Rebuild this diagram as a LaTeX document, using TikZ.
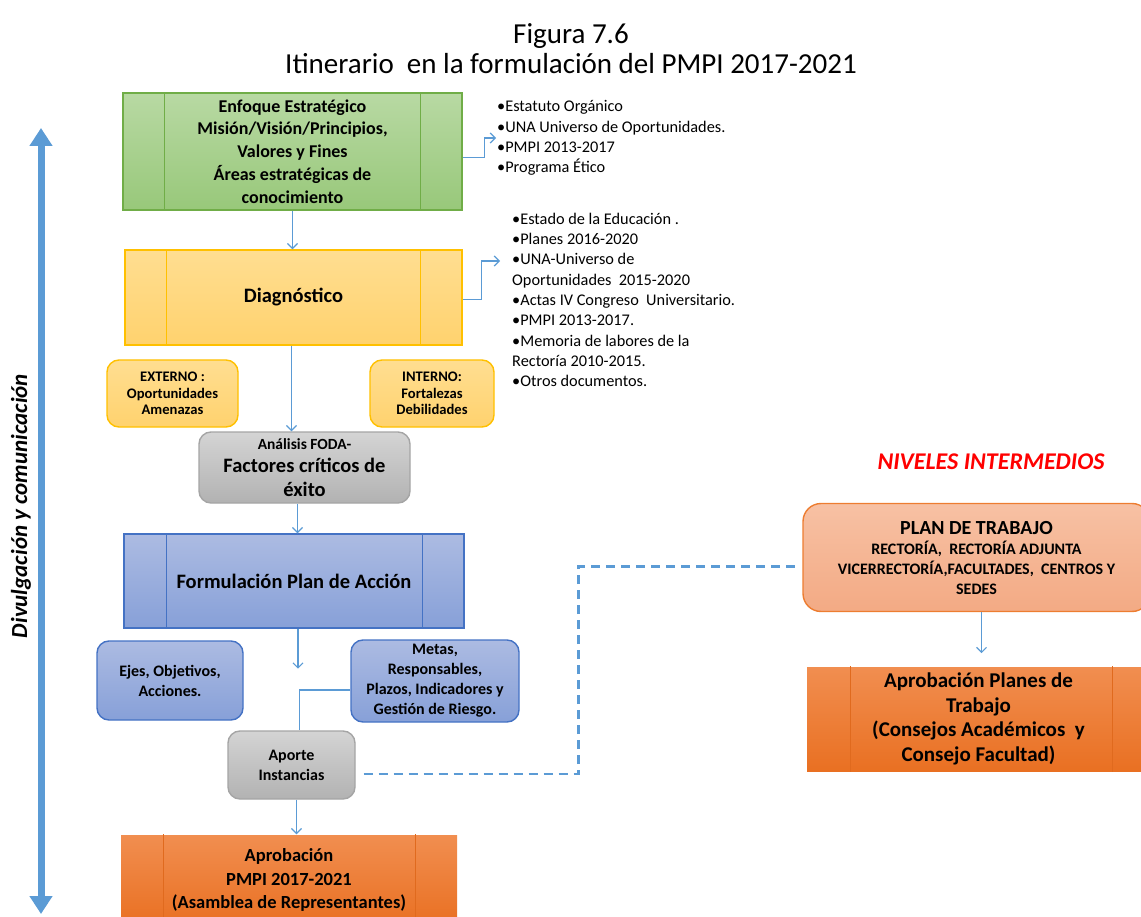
\documentclass[tikz,border=0pt]{standalone}
\usepackage{fontspec}
\setmainfont{Carlito}
\usetikzlibrary{arrows.meta,positioning}

\definecolor{lineblue}{HTML}{5B9BD5}
\definecolor{greenline}{HTML}{70AD47}
\definecolor{goldline}{HTML}{FFC000}
\definecolor{blueline}{HTML}{4472C4}
\definecolor{grayline}{HTML}{A5A5A5}
\definecolor{orangeline}{HTML}{ED7D31}
\definecolor{orangeinner}{HTML}{E06A1E}

\begin{document}
\begin{tikzpicture}[x=1pt, y=-1pt,
  base/.style={align=center, inner sep=2pt},
  proc/.style={base, draw, line width=1.4pt},
  rbox/.style={base, draw, line width=1.4pt, rounded corners=12pt},
  greenbox/.style={draw=greenline, top color={rgb,255:red,184;green,217;blue,163}, bottom color={rgb,255:red,152;green,200;blue,122}},
  goldbox/.style={draw=goldline, top color={rgb,255:red,255;green,222;blue,145}, bottom color={rgb,255:red,255;green,210;blue,110}},
  bluebox/.style={draw=blueline, top color={rgb,255:red,172;green,187;blue,226}, bottom color={rgb,255:red,135;green,160;blue,216}},
  graybox/.style={draw=grayline, top color={rgb,255:red,212;green,212;blue,212}, bottom color={rgb,255:red,178;green,178;blue,178}},
  orangebox/.style={draw=none, top color={rgb,255:red,241;green,142;blue,80}, bottom color={rgb,255:red,233;green,112;blue,34}},
  salmonbox/.style={draw=orangeline, top color={rgb,255:red,247;green,193;blue,164}, bottom color={rgb,255:red,243;green,170;blue,132}},
  list/.style={align=left, inner sep=0pt, font=\fontsize{16.3}{20.3}\selectfont},
  conn/.style={draw=lineblue, line width=1.2pt, -{Straight Barb[length=5pt,width=10pt]}},
  link/.style={draw=lineblue, line width=1.2pt},
  dashlink/.style={draw=lineblue, line width=2.6pt, dash pattern=on 9pt off 6pt},
]
\useasboundingbox (0,0) rectangle (1141,917);

% titulo
\node[font=\fontsize{29}{34}\selectfont] (fig) at (571,36) {Figura 7.6};
\node[font=\fontsize{29}{34}\selectfont] (itin) at (571,64) {Itinerario\ \ en la formulación del PMPI 2017-2021};

% flecha lateral
\coordinate (arrtop) at (41,128);
\coordinate (arrbot) at (41,914);
\draw[lineblue, line width=7pt, {Triangle[width=22pt,length=18pt]}-{Triangle[width=22pt,length=18pt]}] (arrtop) -- (arrbot);
\node[rotate=90, font=\bfseries\itshape\fontsize{23}{26}\selectfont] (divul) at (21,506) {Divulgación y comunicación};

% columna principal
\node[proc, greenbox, minimum width=339pt, minimum height=117pt, font=\bfseries\fontsize{18}{22.75}\selectfont] (enf) at (292.5,151.5)
  {Enfoque Estratégico\\Misión/Visión/Principios,\\Valores y Fines\\Áreas estratégicas de\\conocimiento};
\node[proc, goldbox, minimum width=337pt, minimum height=95pt, font=\bfseries\fontsize{20.5}{24}\selectfont] (diag) at (293.5,297.5) {Diagnóstico};
\node[rbox, goldbox, minimum width=131pt, minimum height=67pt, font=\bfseries\fontsize{14.6}{16.5}\selectfont] (ext) at (172.5,393.5) {EXTERNO :\\Oportunidades\\Amenazas};
\node[rbox, goldbox, minimum width=124pt, minimum height=67pt, font=\bfseries\fontsize{14.6}{16.5}\selectfont] (int) at (432,393.5) {INTERNO:\\Fortalezas\\Debilidades};
\node[rbox, graybox, minimum width=211pt, minimum height=71pt, font=\bfseries\fontsize{20.5}{23.5}\selectfont] (foda) at (304.5,467.5)
  {{\fontsize{15.5}{17}\selectfont Análisis FODA-}\\Factores críticos de\\éxito};
\node[proc, bluebox, minimum width=340pt, minimum height=94pt, font=\bfseries\fontsize{20.5}{24}\selectfont] (form) at (294,581) {Formulación Plan de Acción};
\node[rbox, bluebox, minimum width=146pt, minimum height=79pt, font=\bfseries\fontsize{16}{20}\selectfont] (ejes) at (170,680.5) {Ejes, Objetivos,\\Acciones.};
\node[rbox, bluebox, minimum width=168pt, minimum height=82pt, font=\bfseries\fontsize{16}{20}\selectfont] (metas) at (435,681) {Metas,\\Responsables,\\Plazos, Indicadores y\\Gestión de Riesgo.};
\node[rbox, graybox, minimum width=127pt, minimum height=68pt, font=\bfseries\fontsize{16}{20}\selectfont] (aporte) at (291.5,765) {Aporte\\Instancias};
\node[proc, orangebox, minimum width=336pt, minimum height=90pt, font=\bfseries\fontsize{18.5}{23.5}\selectfont] (apro) at (289,880)
  {Aprobación\\PMPI 2017-2021\\(Asamblea de Representantes)};

% documentos de apoyo
\node[list, anchor=west] (lst1) at (497,138) {•Estatuto Orgánico\\•UNA Universo de Oportunidades.\\•PMPI 2013-2017\\•Programa Ético};
\node[list, anchor=west] (lst2) at (512,300) {•Estado de la Educación .\\•Planes 2016-2020\\•UNA-Universo de\\Oportunidades\ \ 2015-2020\\•Actas IV Congreso\ \ Universitario.\\•PMPI 2013-2017.\\•Memoria de labores de la\\Rectoría 2010-2015.\\•Otros documentos.};

% niveles intermedios
\node[text=red, font=\bfseries\itshape\fontsize{24}{28}\selectfont] (niv) at (991,462) {NIVELES INTERMEDIOS};
\node[rbox, salmonbox, rounded corners=18pt, minimum width=347pt, minimum height=108pt, font=\bfseries\fontsize{16}{20}\selectfont] (plan) at (976.5,557.5)
  {{\fontsize{20}{24}\selectfont PLAN DE TRABAJO}\\RECTORÍA,\ \ RECTORÍA ADJUNTA\\VICERRECTORÍA,FACULTADES,\ \ CENTROS Y\\SEDES};
\node[proc, orangebox, minimum width=343pt, minimum height=104pt, font=\bfseries\fontsize{21}{24.5}\selectfont] (planes) at (978.5,719)
  {Aprobación Planes de\\Trabajo\\(Consejos Académicos\ \ y\\Consejo Facultad)};

% lineas interiores
\foreach \n/\c/\l/\r in {enf/greenline/42/42, diag/goldline/42/42, form/blueline/43/42, apro/orangeinner/43/42, planes/orangeinner/44/38}
{
  \draw[\c, line width=1.2pt] ([xshift=\l pt]\n.north west) -- ([xshift=\l pt]\n.south west);
  \draw[\c, line width=1.2pt] ([xshift=-\r pt]\n.north east) -- ([xshift=-\r pt]\n.south east);
}

% conectores
\draw[conn] ([yshift=-6pt]enf.east) -- ++(22,0) |- ([xshift=-1pt]lst1.west);
\draw[conn] ([yshift=-2pt]diag.east) -- ++(19,0) |- ([xshift=-12pt,yshift=39pt]lst2.west);
\draw[conn] (enf.south) -- (enf.south |- diag.north);
\draw[conn] ([xshift=-2pt]diag.south) -- ([xshift=-2pt]diag.south |- foda.north);
\draw[conn] ([xshift=-7pt]foda.south) -- ([xshift=-7pt]foda.south |- form.north);
\draw[conn] ([xshift=4pt]form.south) -- ++(0,40);
\draw[link] ([yshift=-9pt]metas.west) -| ([xshift=8pt]aporte.north);
\draw[conn] ([xshift=5pt]aporte.south) -- ([xshift=5pt]aporte.south |- apro.north);
\draw[dashlink] ([xshift=8pt,yshift=-9pt]aporte.east) -- ++(215,0) |- ([xshift=-3pt,yshift=-9pt]plan.west);
\draw[conn] ([xshift=5pt]plan.south) -- ++(0,41);

\end{tikzpicture}
\end{document}
